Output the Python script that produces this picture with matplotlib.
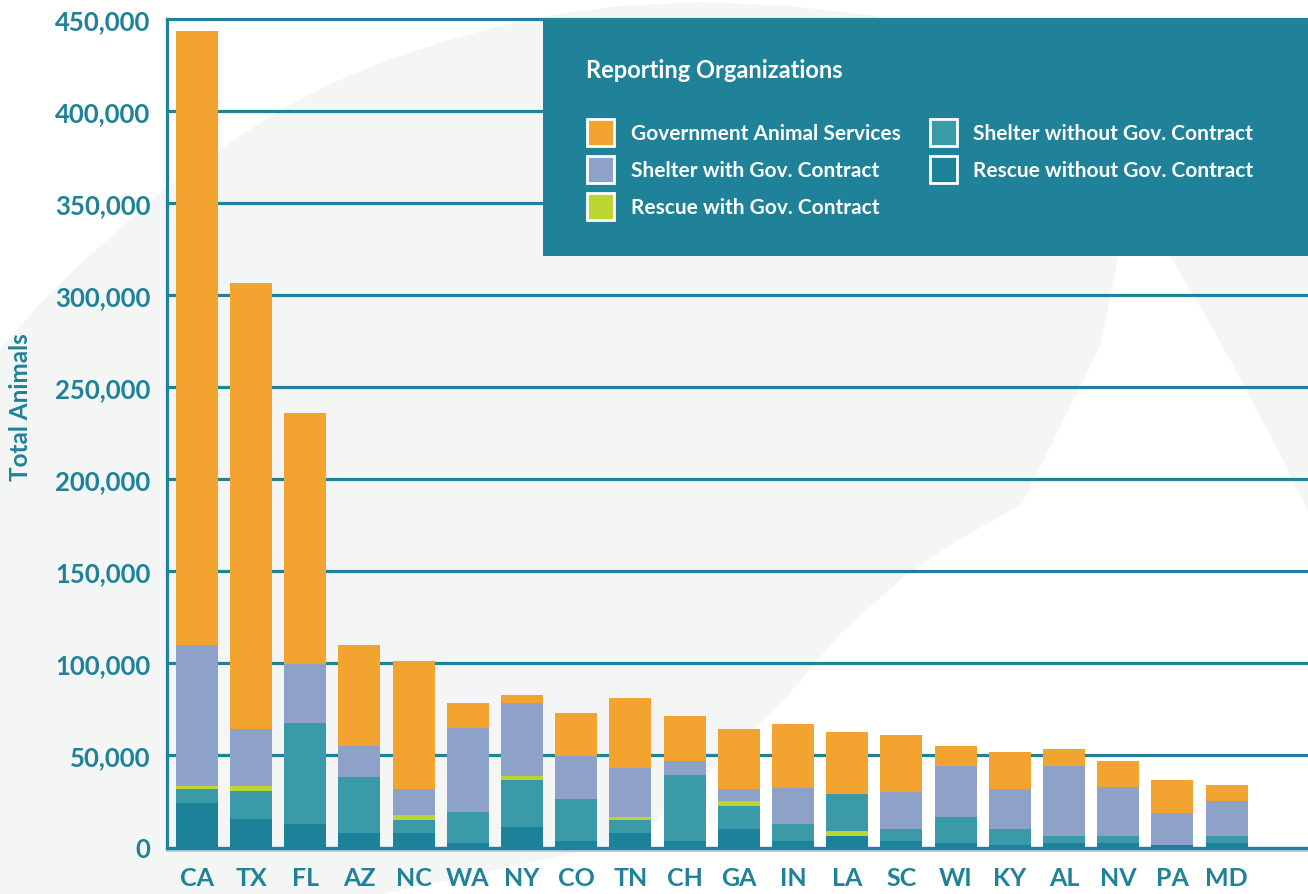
import numpy as np
import matplotlib.pyplot as plt
from matplotlib.patches import Patch, Polygon, Rectangle

plt.rcParams['font.family'] = ['Lato', 'DejaVu Sans']
plt.rcParams['font.weight'] = 'bold'

# datos
estados = ['CA', 'TX', 'FL', 'AZ', 'NC', 'WA', 'NY', 'CO', 'TN', 'CH',
           'GA', 'IN', 'LA', 'SC', 'WI', 'KY', 'AL', 'NV', 'PA', 'MD']
gov_services = [333300, 242100, 136400, 54800, 69500, 13600, 4300, 23400, 38000, 24400,
                32600, 34900, 33700, 31400, 10900, 20100, 9700, 14100, 17900, 8700]
shelter_with = [76800, 31300, 31900, 16900, 14600, 45600, 39600, 23800, 26600, 7600,
                6500, 19900, 0, 20100, 28200, 22200, 37500, 26600, 17400, 18500]
rescue_with = [1400, 2400, 0, 0, 2200, 0, 2700, 0, 2100, 0,
               2700, 0, 2200, 0, 0, 0, 0, 0, 0, 0]
shelter_without = [7600, 15200, 54800, 30400, 7100, 17300, 25500, 22800, 6600, 36300,
                   12500, 9200, 20600, 6500, 14100, 8200, 3800, 3800, 0, 4300]
rescue_without = [24400, 15700, 13000, 8100, 8100, 2200, 10900, 3300, 8100, 3300,
                  10300, 3300, 6500, 3300, 2200, 1600, 2700, 2700, 1600, 2200]

teal = '#1f8299'
series = [
    ('Rescue without Gov. Contract', rescue_without, '#1b829a'),
    ('Shelter without Gov. Contract', shelter_without, '#3a9aa8'),
    ('Rescue with Gov. Contract', rescue_with, '#bcd531'),
    ('Shelter with Gov. Contract', shelter_with, '#8da1c9'),
    ('Government Animal Services', gov_services, '#f3a430'),
]
# orden de apilado por barra (LA tiene el verde debajo del turquesa)
orden = {s: [0, 1, 2, 3, 4] for s in estados}
orden['LA'] = [0, 2, 1, 3, 4]

W, H = 1308, 895
fig = plt.figure(figsize=(W / 100, H / 100), dpi=100)
fig.patch.set_facecolor('white')


def px(x, y):
    return (x / W, 1 - y / H)


# formas grises del fondo (decoracion)
fondo = [(0, 350), (40, 305), (80, 265), (125, 225), (165, 190), (210, 158), (250, 130),
         (290, 106), (330, 85), (390, 60), (452, 40), (500, 27), (545, 17), (620, 7),
         (701, 3), (790, 7), (875, 17), (940, 38), (1000, 70), (1050, 110), (1090, 170),
         (1110, 220), (1118, 258), (1101, 345), (1022, 505), (960, 540), (907, 575),
         (840, 635), (785, 700), (720, 765), (652, 825), (600, 848), (500, 870),
         (384, 895), (0, 895)]
fondo2 = [(1130, 150), (1171, 258), (1210, 325), (1246, 390), (1280, 455),
          (1308, 512), (1308, 150)]
for forma in (fondo, fondo2):
    fig.add_artist(Polygon([px(*p) for p in forma], closed=True, facecolor='#f4f6f5',
                           edgecolor='none', transform=fig.transFigure, zorder=-1))

ax = fig.add_axes([167 / W, (H - 848.5) / H, (W - 167) / W, (848.5 - 20) / H])
ax.set_facecolor('none')

x = np.arange(len(estados))
bases = np.zeros((len(series), len(estados)))
for i, s in enumerate(estados):
    acum = 0
    for k in orden[s]:
        bases[k, i] = acum
        acum += series[k][1][i]

for k, (nombre, vals, color) in enumerate(series):
    ax.bar(x, vals, width=0.775, bottom=bases[k], color=color, label=nombre, zorder=2)

ax.set_xlim(-0.55, 20.5)
ax.set_ylim(0, 450000)
yt = np.arange(0, 450001, 50000)
ax.set_yticks(yt)
ax.set_yticklabels([f'{v:,}' for v in yt])
ax.set_xticks(x)
ax.set_xticklabels(estados)
ax.yaxis.grid(True, color=teal, linewidth=2.3)
for l in ax.get_ygridlines():
    l.set_clip_on(False)
ax.set_axisbelow(True)
ax.tick_params(axis='y', length=0, pad=12, labelsize=18.5, labelcolor=teal)
ax.tick_params(axis='x', length=0, pad=13, labelsize=18, labelcolor=teal)
for lado in ['top', 'right']:
    ax.spines[lado].set_visible(False)
for lado in ['left', 'bottom']:
    ax.spines[lado].set_color(teal)
    ax.spines[lado].set_linewidth(2.3)
# linea clara bajo el eje x
ax.axhline(-2000, color='#9fcbd6', linewidth=1.2, clip_on=False, zorder=1)

fig.text(*px(21, 407), 'Total Animals', rotation=90, ha='center', va='center',
         fontsize=17.5, color=teal)

# caja de la leyenda
fig.add_artist(Rectangle(px(543, 257), (W - 543) / W, (257 - 19) / H, facecolor=teal,
                         edgecolor='none', transform=fig.transFigure, zorder=3))
fig.text(*px(586, 70), 'Reporting Organizations', color='white', fontsize=17,
         ha='left', va='center', zorder=4)
orden_leyenda = [4, 3, 2, 1, 0]
handles = [Patch(facecolor=series[k][2], edgecolor='white', linewidth=2,
                 label=series[k][0]) for k in orden_leyenda]
fig.legend(handles=handles, loc='upper left', bbox_to_anchor=px(587, 120), ncol=2,
           frameon=False, fontsize=15, labelcolor='white', handlelength=1.3,
           handleheight=1.62, handletextpad=0.8, labelspacing=0.48, columnspacing=1.4,
           borderpad=0, borderaxespad=0)

fig.savefig('out.png', dpi=100)
